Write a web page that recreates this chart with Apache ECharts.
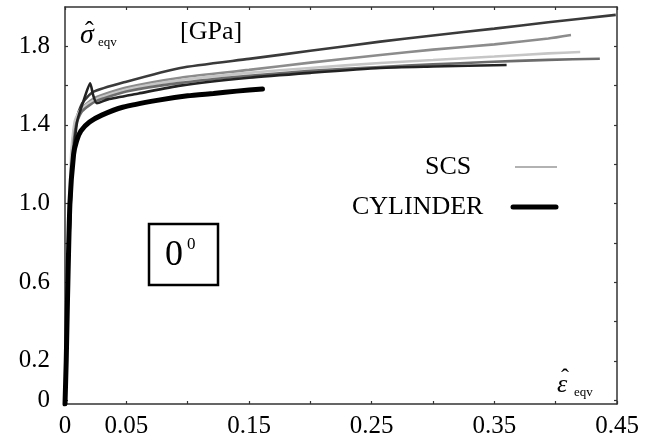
<!DOCTYPE html>
<html>
<head>
<meta charset="utf-8">
<script src="https://cdn.jsdelivr.net/npm/echarts@6/dist/echarts.min.js"></script>
<style>
html,body{margin:0;padding:0;background:#fff;}
#c{width:648px;height:442px;}
</style>
</head>
<body>
<div id="c"></div>
<script>
// ---- data (strain, stress [GPa]) ----
const scsA = [[0,0],[0.003,0.7],[0.006,1.2],[0.009,1.42],[0.014,1.51],[0.023,1.568],[0.05,1.62],[0.094,1.69],[0.15,1.736],[0.2,1.777],[0.257,1.824],[0.3,1.855],[0.35,1.89],[0.394,1.922],[0.449,1.96]];
const scsB = [[0,0],[0.003,0.75],[0.005,1.2],[0.008,1.4],[0.013,1.48],[0.025,1.54],[0.05,1.59],[0.094,1.64],[0.15,1.68],[0.2,1.717],[0.257,1.756],[0.3,1.783],[0.35,1.81],[0.394,1.84],[0.4125,1.858]];
const scsC = [[0,0],[0.003,0.8],[0.005,1.25],[0.008,1.42],[0.013,1.48],[0.025,1.53],[0.05,1.58],[0.094,1.628],[0.15,1.665],[0.2,1.69],[0.257,1.715],[0.3,1.73],[0.35,1.748],[0.394,1.764],[0.42,1.771]];
const scsD = [[0,0],[0.003,0.72],[0.006,1.22],[0.009,1.4],[0.014,1.47],[0.025,1.52],[0.05,1.57],[0.094,1.614],[0.15,1.65],[0.2,1.675],[0.257,1.695],[0.3,1.708],[0.344,1.72],[0.394,1.731],[0.436,1.737]];
const scsE = [[0,0],[0.003,0.7],[0.006,1.2],[0.01,1.42],[0.015,1.52],[0.0205,1.612],[0.023,1.55],[0.026,1.51],[0.035,1.53],[0.06,1.56],[0.094,1.6],[0.15,1.64],[0.2,1.665],[0.257,1.69],[0.3,1.697],[0.36,1.705]];
const cylinder = [[0,-0.02],[0.001,0.2],[0.002,0.5],[0.004,1.0],[0.007,1.25],[0.0095,1.32],[0.013,1.37],[0.02,1.415],[0.03,1.45],[0.047,1.49],[0.075,1.525],[0.1,1.548],[0.121,1.56],[0.14,1.572],[0.161,1.583]];

const xTickValues = [0,0.05,0.1,0.15,0.2,0.25,0.3,0.35,0.4,0.45];
const xLabelValues = [0,0.05,0.15,0.25,0.35,0.45];
const xLabelTexts = ['0','0.05','0.15','0.25','0.35','0.45'];
const yTickValues = [0,0.2,0.4,0.6,0.8,1.0,1.2,1.4,1.6,1.8];
const yLabelValues = [0,0.2,0.6,1.0,1.4,1.8];
const yLabelTexts = ['0','0.2','0.6','1.0','1.4','1.8'];

const scsSeries = [
  {name:'SCS', data:scsA, color:'#3a3a3a'},
  {name:'SCS', data:scsB, color:'#8c8c8c'},
  {name:'SCS', data:scsC, color:'#c6c6c6'},
  {name:'SCS', data:scsD, color:'#6c6c6c'},
  {name:'SCS', data:scsE, color:'#222222'}
];

const FONT = '"Liberation Serif", "DejaVu Serif", serif';
const axisCol = '#333';

function lab(values, texts){
  return function(v){
    for (let i=0;i<values.length;i++){ if (Math.abs(values[i]-v)<1e-9) return texts[i]; }
    return '';
  };
}

const chart = echarts.init(document.getElementById('c'), null, {renderer:'canvas'});
const series = scsSeries.map(s => ({
  type:'line', name:s.name, data:s.data, showSymbol:false, symbol:'none',
  xAxisIndex:0, yAxisIndex:0, smooth:0.2,
  lineStyle:{color:s.color, width:2.6}, silent:true, animation:false
}));
series.push({
  type:'line', name:'CYLINDER', data:cylinder, showSymbol:false, symbol:'none',
  xAxisIndex:0, yAxisIndex:0, smooth:0.2,
  lineStyle:{color:'#000', width:5, cap:'round'}, silent:true, animation:false
});

const axisBase = {
  type:'value', splitLine:{show:false},
  axisLine:{show:true, onZero:false, lineStyle:{color:axisCol, width:1.5}},
  axisTick:{show:true, inside:true, length:3, lineStyle:{color:axisCol, width:1.2}}
};

chart.setOption({
  animation:false,
  backgroundColor:'#fff',
  grid:{left:65, right:31, top:7, bottom:38},
  xAxis:[
    Object.assign({}, axisBase, {
      position:'bottom', min:0, max:0.45,
      axisTick:Object.assign({}, axisBase.axisTick, {customValues:xTickValues}),
      axisLabel:{show:true, customValues:xLabelValues, formatter:lab(xLabelValues,xLabelTexts),
        margin:10, fontFamily:FONT, fontSize:25, color:'#000'}
    }),
    Object.assign({}, axisBase, {
      position:'top', min:0, max:0.45,
      axisTick:Object.assign({}, axisBase.axisTick, {customValues:xTickValues}),
      axisLabel:{show:false}
    })
  ],
  yAxis:[
    Object.assign({}, axisBase, {
      position:'left', min:-0.02, max:2.0,
      axisTick:Object.assign({}, axisBase.axisTick, {customValues:yTickValues}),
      axisLabel:{show:true, customValues:yLabelValues, formatter:lab(yLabelValues,yLabelTexts),
        margin:15, fontFamily:FONT, fontSize:25, color:'#000'}
    }),
    Object.assign({}, axisBase, {
      position:'right', min:-0.02, max:2.0,
      axisTick:Object.assign({}, axisBase.axisTick, {customValues:yTickValues}),
      axisLabel:{show:false}
    })
  ],
  series: series,
  graphic:[
    // y-axis title
    {type:'text', left:80, top:22, style:{text:'σ', font:'italic 28px '+FONT, fill:'#000'}},
    {type:'text', left:85, top:19, style:{text:'ˆ', font:'26px '+FONT, fill:'#000'}},
    {type:'text', left:98, top:36, style:{text:'eqv', font:'13px '+FONT, fill:'#000'}},
    {type:'text', left:180, top:19, style:{text:'[GPa]', font:'26px '+FONT, fill:'#000'}},
    // x-axis title
    {type:'text', left:557, top:372, style:{text:'ε', font:'italic 26px '+FONT, fill:'#000'}},
    {type:'text', left:561, top:367, style:{text:'ˆ', font:'24px '+FONT, fill:'#000'}},
    {type:'text', left:574, top:386, style:{text:'eqv', font:'13px '+FONT, fill:'#000'}},
    // legend
    {type:'text', left:425, top:154, style:{text:'SCS', font:'26px '+FONT, fill:'#000'}},
    {type:'line', shape:{x1:515, y1:167, x2:557, y2:167}, style:{stroke:'#999', lineWidth:1.5}},
    {type:'text', left:352, top:194, style:{text:'CYLINDER', font:'26px '+FONT, fill:'#000'}},
    {type:'line', shape:{x1:513, y1:207, x2:556, y2:207}, style:{stroke:'#000', lineWidth:5, lineCap:'round'}},
    // 0° box
    {type:'rect', shape:{x:149, y:224, width:69, height:61}, style:{fill:'none', stroke:'#000', lineWidth:2.5}},
    {type:'text', left:165, top:238, style:{text:'0', font:'36px '+FONT, fill:'#000'}},
    {type:'text', left:187, top:236, style:{text:'0', font:'17px '+FONT, fill:'#000'}}
  ]
});
</script>
</body>
</html>
